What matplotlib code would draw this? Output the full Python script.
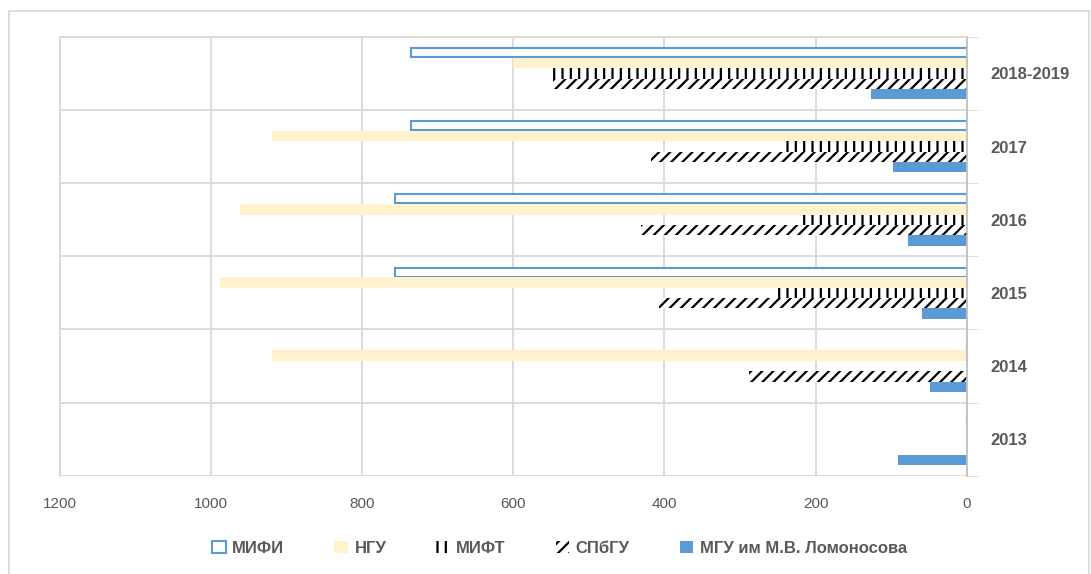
import matplotlib
matplotlib.use("Agg")
import matplotlib.pyplot as plt
import numpy as np
from matplotlib.patches import Rectangle

plt.rcParams['font.family'] = ['Liberation Sans', 'DejaVu Sans']
plt.rcParams['hatch.linewidth'] = 1.6

years = ['2013', '2014', '2015', '2016', '2017', '2018-2019']
mifi = [0, 0, 757, 757, 735, 735]
ngu = [0, 919, 988, 962, 919, 600]
mift = [0, 0, 253, 222, 242, 552]
spbgu = [0, 288, 407, 431, 418, 547]
mgu = [91, 48, 59, 77, 97, 127]

series = ['МИФИ', 'НГУ', 'МИФТ', 'СПбГУ', 'МГУ им М.В. Ломоносова']
blue = '#5B9BD5'

fig = plt.figure(figsize=[10.91, 5.74], dpi=100)
ax = fig.add_axes([0.055, 0.171, 0.831, 0.765])

y = np.arange(len(years))
h = 0.142
offs = [2 * h, h, 0, -h, -2 * h]

b1 = ax.barh(y + offs[0], mifi, height=h * 0.85, color='white', edgecolor=blue, linewidth=1.5, label=series[0])
b2 = ax.barh(y + offs[1], ngu, height=h, color='#FFF2CC', linewidth=0, label=series[1])
b3 = ax.barh(y + offs[2], mift, height=h, color='white', edgecolor='black', linewidth=0, hatch='||', label=series[2])
b4 = ax.barh(y + offs[3], spbgu, height=h, color='white', edgecolor='black', linewidth=0, hatch='///', label=series[3])
b5 = ax.barh(y + offs[4], mgu, height=h, color=blue, linewidth=0, label=series[4])

ax.set_xlim(1200, 0)
ax.set_ylim(-0.5, len(years) - 0.5)
ax.set_xticks([1200, 1000, 800, 600, 400, 200, 0])
ax.set_yticks(y)
ax.set_yticklabels(years)
ax.yaxis.tick_right()
ax.set_yticks(np.arange(-0.5, len(years)), minor=True)
ax.tick_params(axis='y', which='major', length=0, pad=17, labelsize=12, labelcolor='#595959')
ax.tick_params(axis='y', which='minor', length=8, color='#D9D9D9', direction='out')
ax.tick_params(axis='x', length=0, pad=15, labelsize=11, labelcolor='#595959')
for t in ax.get_yticklabels():
    t.set_fontweight('bold')

ax.grid(axis='x', color='#D9D9D9', linewidth=1.3)
ax.grid(axis='y', which='minor', color='#D9D9D9', linewidth=1.3)
ax.set_axisbelow(True)
for s in ['top', 'left', 'bottom']:
    ax.spines[s].set_color('#D9D9D9')
    ax.spines[s].set_linewidth(1.3)
ax.spines['bottom'].set_visible(False)
ax.spines['right'].set_color('#BFBFBF')
ax.spines['right'].set_linewidth(1.3)

leg = fig.legend(handles=[b1, b2, b3, b4, b5], loc='center', bbox_to_anchor=(0.513, 0.045),
                 ncol=5, frameon=False, fontsize=12, handlelength=0.8, handleheight=0.8,
                 columnspacing=3.0, handletextpad=0.4)
for t in leg.get_texts():
    t.set_color('#595959')
    t.set_fontweight('bold')

fig.patches.append(Rectangle((0.008, -0.01), 0.99, 0.99, transform=fig.transFigure,
                             fill=False, edgecolor='#D9D9D9', linewidth=1.3))

plt.savefig('out.png', dpi=100)
